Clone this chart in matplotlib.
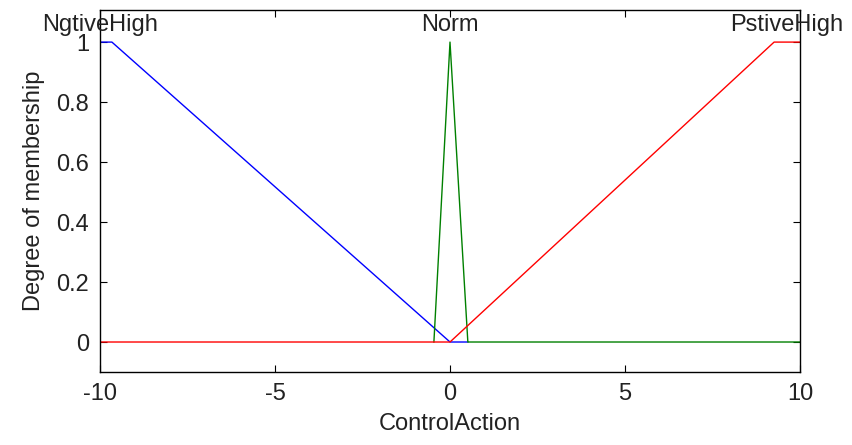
import matplotlib
matplotlib.use("Agg")
import matplotlib.pyplot as plt

plt.rcParams['font.family'] = ['Liberation Sans', 'DejaVu Sans']
plt.rcParams['axes.unicode_minus'] = False

# membership function break points (ControlAction universe -10..10)
neg_x = [-10, -9.66, 0, 0.51]
neg_y = [1, 1, 0, 0]
norm_x = [-0.46, 0, 0.51, 10]
norm_y = [0, 1, 0, 0]
pos_x = [-10, 0, 9.26, 10]
pos_y = [0, 0, 1, 1]

mf_names = ['NgtiveHigh', 'Norm', 'PstiveHigh']
name_x = [-10, 0, 9.63]

fig = plt.figure(figsize=(8.52, 4.45), dpi=100)
ax = fig.add_axes([100/852, (445-372)/445, 700/852, 362/445])

ax.plot(neg_x, neg_y, color='blue', lw=1)
ax.plot(norm_x, norm_y, color=(0, 0.5, 0), lw=1)
ax.plot(pos_x, pos_y, color='red', lw=1)

for nm, xx in zip(mf_names, name_x):
    ax.text(xx, 1.02, nm, ha='center', va='bottom', fontsize=17, color='#222222')

ax.set_xlim(-10, 10)
ax.set_ylim(-0.1, 1.107)
ax.set_xticks([-10, -5, 0, 5, 10])
ax.set_yticks([0, 0.2, 0.4, 0.6, 0.8, 1])
ax.set_yticklabels(['0', '0.2', '0.4', '0.6', '0.8', '1'])
ax.tick_params(direction='in', top=True, right=True, labelsize=17, length=5,
               pad=8, labelcolor='#222222')
for s in ax.spines.values():
    s.set_linewidth(1)
ax.set_xlabel('ControlAction', fontsize=17, labelpad=6, color='#222222')
ax.set_ylabel('Degree of membership', fontsize=17, labelpad=8, color='#222222')

fig.savefig('out.png', dpi=100)
